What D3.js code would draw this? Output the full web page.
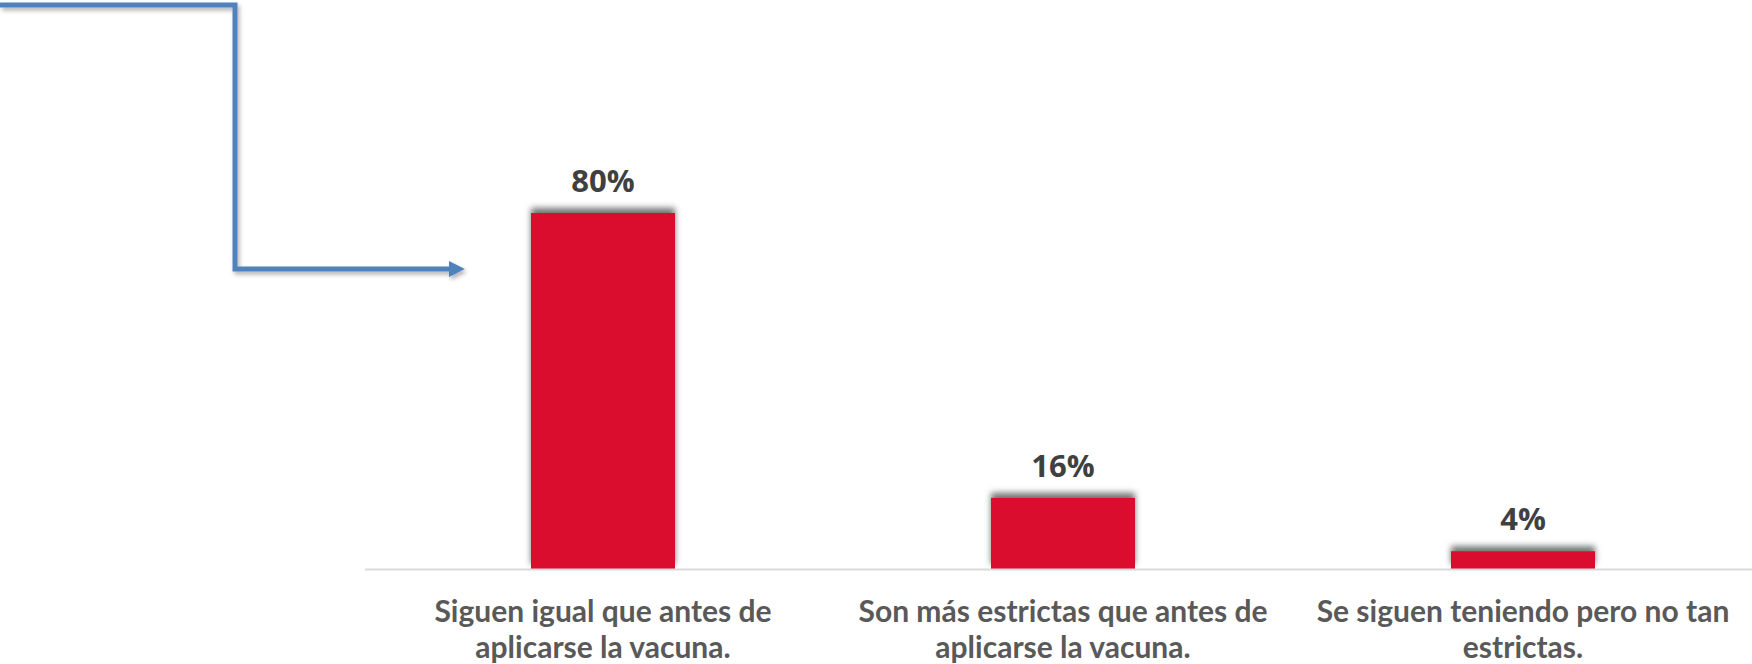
<!DOCTYPE html>
<html>
<head>
<meta charset="utf-8">
<script src="https://cdn.jsdelivr.net/npm/d3@7"></script>
<style>
  html, body { margin: 0; padding: 0; background: #fff; }
  svg { display: block; }
</style>
</head>
<body>
<div id="chart"></div>
<script>
const WIDTH = 1752
const HEIGHT = 664

const categories = [
  "Siguen igual que antes de aplicarse la vacuna.",
  "Son más estrictas que antes de aplicarse la vacuna.",
  "Se siguen teniendo pero no tan estrictas."
]
const values = [80, 16, 4]
const valueLabels = ["80%", "16%", "4%"]

const BASE_Y = 569

const svg = d3.select("#chart")
  .append("svg")
  .attr("width", WIDTH)
  .attr("height", HEIGHT)

const defs = svg.append("defs")

// shadow on top of bars
defs.append("filter")
  .attr("id", "bar-shadow")
  .attr("x", "-20%").attr("y", "-100%")
  .attr("width", "140%").attr("height", "300%")
  .append("feDropShadow")
  .attr("dx", 0).attr("dy", -5)
  .attr("stdDeviation", 3)
  .attr("flood-color", "#000")
  .attr("flood-opacity", 0.55)

// shadow under the arrow
defs.append("filter")
  .attr("id", "arrow-shadow")
  .attr("x", "-10%").attr("y", "-10%")
  .attr("width", "120%").attr("height", "120%")
  .append("feDropShadow")
  .attr("dx", 2).attr("dy", 3)
  .attr("stdDeviation", 2)
  .attr("flood-color", "#000")
  .attr("flood-opacity", 0.3)

const x = d3.scaleBand()
  .domain(categories)
  .range([373, 1753])
  .paddingInner(0.687)
  .paddingOuter(0.3435)

const y = d3.scaleLinear()
  .domain([0, 100])
  .range([BASE_Y, BASE_Y - 445])

// bars
svg.append("g")
  .selectAll("rect")
  .data(values)
  .join("rect")
  .attr("x", (d, i) => x(categories[i]))
  .attr("y", d => y(d))
  .attr("width", x.bandwidth())
  .attr("height", d => y(0) - y(d))
  .attr("fill", "#da0f2d")
  .attr("filter", "url(#bar-shadow)")

// category axis line
svg.append("line")
  .attr("x1", 365)
  .attr("x2", WIDTH)
  .attr("y1", BASE_Y + 0.5)
  .attr("y2", BASE_Y + 0.5)
  .attr("stroke", "#d9d9d9")
  .attr("stroke-width", 2)

// value labels
svg.append("g")
  .selectAll("text")
  .data(values)
  .join("text")
  .attr("x", (d, i) => x(categories[i]) + x.bandwidth() / 2)
  .attr("y", d => y(d) - 21)
  .attr("text-anchor", "middle")
  .attr("font-family", "Open Sans, sans-serif")
  .attr("font-weight", "bold")
  .attr("font-size", 31)
  .attr("fill", "#404040")
  .text((d, i) => valueLabels[i])

// category labels, wrapped
const catText = svg.append("g")
  .selectAll("text")
  .data(categories)
  .join("text")
  .attr("x", d => x(d) + x.bandwidth() / 2)
  .attr("y", 622)
  .attr("text-anchor", "middle")
  .attr("font-family", "Lato, sans-serif")
  .attr("font-weight", "bold")
  .attr("font-size", 30)
  .attr("fill", "#595959")

catText.each(function(d) {
  const text = d3.select(this)
  const words = d.split(" ")
  const cx = text.attr("x")
  let line = []
  let tspan = text.append("tspan").attr("x", cx).attr("dy", 0)
  words.forEach(w => {
    line.push(w)
    tspan.text(line.join(" "))
    if (tspan.node().getComputedTextLength() > 440 && line.length > 1) {
      line.pop()
      tspan.text(line.join(" "))
      line = [w]
      tspan = text.append("tspan").attr("x", cx).attr("dy", 36).text(w)
    }
  })
})

// connector arrow (decoration)
defs.append("marker")
  .attr("id", "arrowhead")
  .attr("viewBox", "0 0 10 10")
  .attr("refX", 2).attr("refY", 5)
  .attr("markerWidth", 3.2).attr("markerHeight", 3.2)
  .attr("markerUnits", "strokeWidth")
  .attr("orient", "auto")
  .append("path")
  .attr("d", "M0,0 L10,5 L0,10 Z")
  .attr("fill", "#4f81bd")

svg.append("path")
  .attr("d", d3.line()([[0, 5], [235, 5], [235, 269], [452, 269]]))
  .attr("fill", "none")
  .attr("stroke", "#4f81bd")
  .attr("stroke-width", 5)
  .attr("marker-end", "url(#arrowhead)")
  .attr("filter", "url(#arrow-shadow)")
</script>
</body>
</html>
